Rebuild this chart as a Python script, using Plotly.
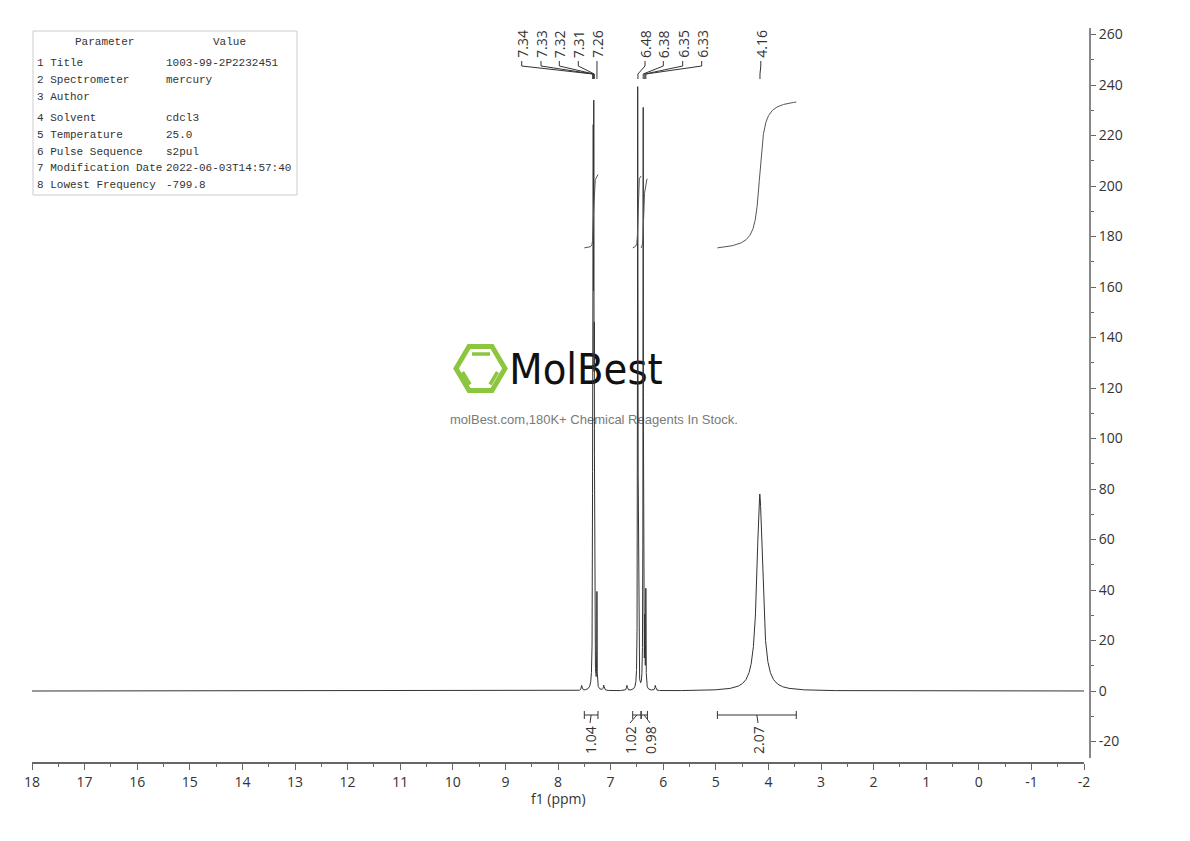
import numpy as np
import plotly.graph_objects as go

# ---------------- data ----------------
# 1H NMR peak list: position (ppm), height (intensity units), line width (ppm)
peak_ppm    = [7.55, 7.34, 7.33, 7.32, 7.31, 7.26, 7.13, 6.69, 6.485, 6.475, 6.38, 6.35, 6.33, 6.15, 4.165]
peak_height = [2.0, 100, 180, 190, 110, 37, 2.0, 2.0, 232, 50, 230, 25, 38, 2.0, 78]
peak_fwhm   = [0.02, 0.008, 0.008, 0.008, 0.008, 0.006, 0.02, 0.02, 0.008, 0.008, 0.008, 0.008, 0.007, 0.02, 0.13]

# peak picking labels
peak_labels = ["7.34", "7.33", "7.32", "7.31", "7.26", "6.48", "6.38", "6.35", "6.33", "4.16"]

# integration regions
int_values = [1.04, 1.02, 0.98, 2.07]
int_start  = [7.50, 6.58, 6.42, 4.97]
int_end    = [7.24, 6.42, 6.30, 3.47]

# axis ticks
x_ticks = list(range(18, -3, -1))
y_ticks = list(range(-20, 261, 20))

# parameter table
table_params = ["1 Title", "2 Spectrometer", "3 Author", "4 Solvent", "5 Temperature",
                "6 Pulse Sequence", "7 Modification Date", "8 Lowest Frequency"]
table_values = ["1003-99-2P2232451", "mercury", "", "cdcl3", "25.0", "s2pul",
                "2022-06-03T14:57:40", "-799.8"]

# ---------------- layout geometry (page pixels) ----------------
PAGE_OFF = 8                      # body margin of the html page
W, H = 1190 - 2 * PAGE_OFF, 841 - 2 * PAGE_OFF
PLOT_L, PLOT_R, PLOT_T, PLOT_B = 32, 1090, 28, 763
ML = PLOT_L - PAGE_OFF
MT = PLOT_T - PAGE_OFF
MR = (PAGE_OFF + W) - PLOT_R
MB = (PAGE_OFF + H) - PLOT_B
PW, PH = PLOT_R - PLOT_L, PLOT_B - PLOT_T
X0_PX, X1_PX = 32, 1084           # 18 ppm .. -2 ppm
Y_BOT_PX, Y_TOP_PX = 758, 28      # y-axis extent
Y_ZERO_PX, Y_SCALE = 691, 2.525   # px of 0, px per unit


def val(py):
    return (Y_ZERO_PX - py) / Y_SCALE


def ppm(px):
    return 18 - (px - X0_PX) * 20.0 / (X1_PX - X0_PX)


def pxp(px):
    return (px - PLOT_L) / PW


def pyp(py):
    return (PLOT_B - py) / PH


y_range = [val(Y_BOT_PX), val(Y_TOP_PX)]

# label column positions (layout), page pixel x
label_px = [521.7, 541, 559.3, 578.3, 597.0, 645, 663.3, 682.7, 701.7, 760.8]
int_label_px = [590, 630, 650, 758]

# ---------------- spectrum ----------------
grid = np.concatenate([
    np.linspace(18, -2, 4001),
    np.arange(7.62, 7.05, -0.0005),
    np.arange(6.78, 6.08, -0.0005),
    np.arange(5.3, 3.0, -0.002),
])
grid = np.unique(np.round(grid, 5))[::-1]
spec = np.zeros_like(grid)
for p, h, w in zip(peak_ppm, peak_height, peak_fwhm):
    spec += h / (1 + ((grid - p) / (w / 2)) ** 2)

fig = go.Figure()

# logo text (drawn first so spectrum lines pass over it)
fig.add_trace(go.Scatter(
    x=[ppm(586)], y=[val(373)], mode="text", text=["MolBest"],
    textfont=dict(family="Liberation Sans Narrow, DejaVu Sans Condensed, Liberation Sans, Arial, sans-serif",
                  size=43, color="#111111"),
    hoverinfo="skip", showlegend=False, cliponaxis=False))
fig.add_trace(go.Scatter(
    x=[ppm(594)], y=[val(421)], mode="text",
    text=["molBest.com,180K+ Chemical Reagents In Stock."],
    textfont=dict(family="Liberation Sans, Arial, sans-serif", size=13, color="#7a7a7a"),
    hoverinfo="skip", showlegend=False, cliponaxis=False))

fig.add_trace(go.Scatter(x=grid, y=spec, mode="lines",
                         line=dict(color="#333333", width=1),
                         hoverinfo="skip", showlegend=False))

# integral curves
for s, e, v in zip(int_start, int_end, int_values):
    m = (grid <= s) & (grid >= e)
    xs, ys = grid[m], spec[m]
    dx = np.abs(np.diff(xs))
    cum = np.concatenate([[0], np.cumsum(0.5 * (ys[1:] + ys[:-1]) * dx)])
    curve = 175.5 + cum / cum[-1] * v * 27.9
    fig.add_trace(go.Scatter(x=xs, y=curve, mode="lines",
                             line=dict(color="#555555", width=1),
                             hoverinfo="skip", showlegend=False))

# peak label connectors
cx, cy = [], []
for lab, lp in zip(peak_labels, label_px):
    lx = ppm(lp)
    pk = float(lab)
    cx += [lx, lx, pk, pk, None]
    cy += [val(61), val(66), val(74), val(79), None]
fig.add_trace(go.Scatter(x=cx, y=cy, mode="lines", line=dict(color="#333333", width=1),
                         hoverinfo="skip", showlegend=False, cliponaxis=False))

annotations = []
shapes = []
for lab, lp in zip(peak_labels, label_px):
    annotations.append(dict(x=ppm(lp), y=val(60), xref="x", yref="y", text=lab,
                            textangle=-90, xanchor="center", yanchor="bottom",
                            showarrow=False, font=dict(family="Open Sans, sans-serif", size=14, color="#333333")))

# integration brackets
vb = val(715)
for s, e, v, lp in zip(int_start, int_end, int_values, int_label_px):
    c = (s + e) / 2
    lx = ppm(lp)
    line = dict(color="#333333", width=1)
    shapes.append(dict(type="line", xref="x", yref="y", x0=s, x1=e, y0=vb, y1=vb, line=line))
    for xe in (s, e):
        shapes.append(dict(type="line", xref="x", yref="y", x0=xe, x1=xe, y0=val(711), y1=val(719), line=line))
    shapes.append(dict(type="line", xref="x", yref="y", x0=c, x1=lx, y0=vb, y1=val(723), line=line))
    annotations.append(dict(x=lx, y=val(740), xref="x", yref="y", text=f"{v:.2f}",
                            textangle=-90, xanchor="center", yanchor="middle",
                            showarrow=False, font=dict(family="Open Sans, sans-serif", size=14, color="#333333")))

# x axis title
annotations.append(dict(x=pxp(558), y=pyp(799), xref="paper", yref="paper", text="f1 (ppm)",
                        showarrow=False, xanchor="center", yanchor="middle",
                        font=dict(family="Open Sans, sans-serif", size=14, color="#333333")))

# parameter table
shapes.append(dict(type="rect", xref="paper", yref="paper", x0=pxp(33), x1=pxp(297),
                   y0=pyp(195), y1=pyp(31), line=dict(color="#cccccc", width=1)))
tfont = dict(family="Liberation Mono, DejaVu Sans Mono, monospace", size=11, color="#333333")
annotations.append(dict(x=pxp(104), y=pyp(42), xref="paper", yref="paper", text="Parameter",
                        showarrow=False, xanchor="center", yanchor="middle", font=tfont))
annotations.append(dict(x=pxp(229), y=pyp(42), xref="paper", yref="paper", text="Value",
                        showarrow=False, xanchor="center", yanchor="middle", font=tfont))
row_py = [63, 80, 97, 118, 135, 152, 168, 185]
for prm, vv, ry in zip(table_params, table_values, row_py):
    annotations.append(dict(x=pxp(35), y=pyp(ry), xref="paper", yref="paper", text=prm,
                            showarrow=False, xanchor="left", yanchor="middle", font=tfont))
    if vv:
        annotations.append(dict(x=pxp(164), y=pyp(ry), xref="paper", yref="paper", text=vv,
                                showarrow=False, xanchor="left", yanchor="middle", font=tfont))

# logo hexagon
green = "#8cc63f"
hexpts = [(456, 368.5), (469, 346.5), (492, 346.5), (505, 368.5), (492, 390.5), (469, 390.5)]
path = "M " + " L ".join(f"{pxp(a):.5f},{pyp(b):.5f}" for a, b in hexpts) + " Z"
shapes.append(dict(type="path", xref="paper", yref="paper", path=path, layer="below",
                   line=dict(color=green, width=5)))
for (a0, b0, a1, b1) in [(472, 354, 490, 354), (462.5, 372, 470, 384.5), (490, 384.5, 497.5, 372)]:
    shapes.append(dict(type="line", xref="paper", yref="paper", x0=pxp(a0), y0=pyp(b0),
                       x1=pxp(a1), y1=pyp(b1), layer="below", line=dict(color=green, width=3.5)))

x_minor = [t - 0.5 for t in x_ticks[:-1]]
y_minor = [t + 10 for t in y_ticks]

fig.update_layout(
    width=W, height=H,
    margin=dict(l=ML, r=MR, t=MT, b=MB, pad=0),
    paper_bgcolor="white", plot_bgcolor="white",
    showlegend=False,
    font=dict(family="Open Sans, sans-serif", size=14, color="#333333"),
    xaxis=dict(domain=[0, (X1_PX - PLOT_L) / PW], range=[18, -2], anchor="free", position=0,
               showgrid=False, zeroline=False, showline=True, linecolor="#666666", linewidth=1.5,
               ticks="outside", ticklen=6, tickwidth=1, tickcolor="#666666",
               tickmode="array", tickvals=x_ticks, ticktext=[str(t) for t in x_ticks],
               tickfont=dict(size=14, color="#333333"),
               minor=dict(tickvals=x_minor, ticks="outside", ticklen=3, tickcolor="#666666")),
    yaxis=dict(domain=[pyp(Y_BOT_PX), 1], range=y_range, anchor="free", position=1,
               side="right", showgrid=False, zeroline=False, showline=True, linecolor="#888888", linewidth=2,
               ticks="outside", ticklen=5, tickwidth=1, tickcolor="#666666",
               tickmode="array", tickvals=y_ticks, ticktext=[str(t) for t in y_ticks],
               tickfont=dict(size=14, color="#333333"),
               minor=dict(tickvals=y_minor, ticks="outside", ticklen=3, tickcolor="#666666")),
    annotations=annotations,
    shapes=shapes,
)

fig.write_html("out.html")
